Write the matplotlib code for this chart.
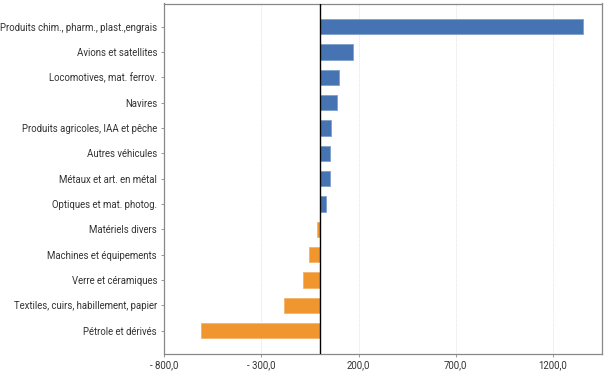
import matplotlib
matplotlib.use("Agg")
import matplotlib.pyplot as plt

categories = [
    "Produits chim., pharm., plast.,engrais",
    "Avions et satellites",
    "Locomotives, mat. ferrov.",
    "Navires",
    "Produits agricoles, IAA et pêche",
    "Autres véhicules",
    "Métaux et art. en métal",
    "Optiques et mat. photog.",
    "Matériels divers",
    "Machines et équipements",
    "Verre et céramiques",
    "Textiles, cuirs, habillement, papier",
    "Pétrole et dérivés",
]
values = [1356, 172, 99, 87, 57, 52, 52, 33, -13, -56, -87, -183, -611]
xticks = [-800, -300, 200, 700, 1200]
xtick_labels = ["- 800,0", "- 300,0", "200,0", "700,0", "1200,0"]

plt.rcParams['font.family'] = ['Roboto', 'DejaVu Sans']

fig = plt.figure(figsize=(6.05, 3.71), dpi=100)
ax = fig.add_axes([164/605, 1 - 353.7/371, (601.7-164)/605, (353.7-3.5)/371])

blue = "#4674b3"
orange = "#ef962f"
ypos = list(range(len(categories)))
colors = [blue if v >= 0 else orange for v in values]
edges = ["#7f9fcc" if v >= 0 else "#f5b36a" for v in values]
ax.barh(ypos, values, height=0.6, color=colors, edgecolor=edges, linewidth=0.6, zorder=3)
ax.axvline(0, color="black", linewidth=1.0, zorder=4)

ax.set_xlim(-800, 1450)
ax.set_ylim(12.91, -0.91)
ax.set_yticks(ypos)
ax.set_yticklabels(categories)
ax.set_xticks(xticks)
ax.set_xticklabels(xtick_labels)
ax.tick_params(axis='both', labelsize=6.9, labelcolor="#333333", color="#888888", length=2.5, width=0.6, pad=2.5)
ax.grid(axis='x', color="#e6e6e6", linestyle=(0, (2, 1)), linewidth=0.6, zorder=0)
for s in ax.spines.values():
    s.set_color("#888888")
    s.set_linewidth(0.9)

fig.savefig("out.png", dpi=100)
